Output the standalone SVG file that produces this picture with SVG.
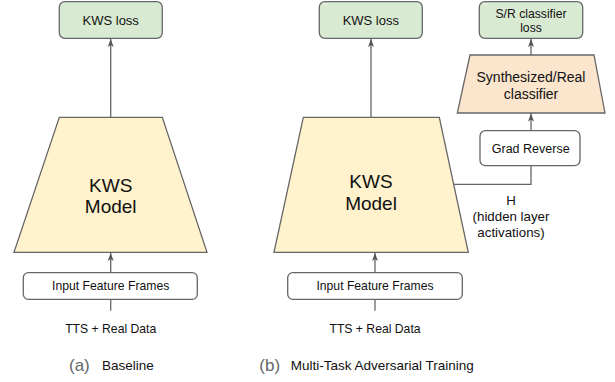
<svg xmlns="http://www.w3.org/2000/svg" width="615" height="382" viewBox="0 0 615 382">
<defs>
<style>
text{font-family:"Liberation Sans",Arial,sans-serif;fill:#111;text-anchor:middle}
.box{fill:#fff;stroke:#666;stroke-width:1.3}
.loss{fill:#d9ead3;stroke:#666;stroke-width:1.3}
.kws{fill:#fff2cc;stroke:#666;stroke-width:1.3}
.cls{fill:#fce5cd;stroke:#666;stroke-width:1.3}
.ln{fill:none;stroke:#666;stroke-width:1.3}
.s12{font-size:12.2px}
.big{font-size:19px}
.cap{font-size:17px;fill:#666;text-anchor:start}
.capt{font-size:13.5px;text-anchor:start}
</style>
<marker id="ah" markerUnits="userSpaceOnUse" markerWidth="10" markerHeight="10" refX="8" refY="4" orient="auto">
<path d="M0,1 L8,4 L0,7 L2,4 z" fill="#555"/>
</marker>
</defs>
<g id="connectors">
<line class="ln" x1="110.7" y1="117" x2="110.7" y2="39" marker-end="url(#ah)"/>
<line class="ln" x1="110.7" y1="272.7" x2="110.7" y2="253" marker-end="url(#ah)"/>
<line class="ln" x1="110.7" y1="299.3" x2="110.7" y2="310.7"/>
<line class="ln" x1="371" y1="117" x2="371" y2="39" marker-end="url(#ah)"/>
<line class="ln" x1="375" y1="272.7" x2="375" y2="253" marker-end="url(#ah)"/>
<line class="ln" x1="375" y1="299.3" x2="375" y2="310.7"/>
<polyline class="ln" points="453.7,184.3 531,184.3 531,165.7"/>
<line class="ln" x1="531" y1="130.7" x2="531" y2="113.5" marker-end="url(#ah)"/>
<line class="ln" x1="531" y1="55" x2="531" y2="39" marker-end="url(#ah)"/>
</g>
<g id="a-kws-loss">
<rect class="loss" x="59.3" y="1.7" width="103" height="36.6" rx="5.5"/>
<text class="s12" x="110.7" y="24.5" style="font-size:13px">KWS loss</text>
</g>
<g id="a-kws-model">
<polygon class="kws" points="59.3,117.3 162.3,117.3 207,252.3 14,252.3"/>
<text class="big" x="110.7" y="191.5">KWS</text>
<text class="big" x="110.7" y="213.3">Model</text>
</g>
<g id="a-input">
<rect class="box" x="23.3" y="272.7" width="174" height="26.6" rx="5"/>
<text class="s12" x="110.7" y="290.2">Input Feature Frames</text>
</g>
<g id="a-data">
<text class="s12" x="110.7" y="332.7">TTS + Real Data</text>
</g>
<g id="a-caption">
<text class="cap" x="69" y="371">(a)</text>
<text class="capt" x="102" y="370">Baseline</text>
</g>
<g id="b-kws-loss">
<rect class="loss" x="319.3" y="1.7" width="103" height="36.6" rx="5.5"/>
<text class="s12" x="370.8" y="24.5" style="font-size:13px">KWS loss</text>
</g>
<g id="b-kws-model">
<polygon class="kws" points="303.3,117.3 439.3,117.3 468.3,252.3 274,252.3"/>
<text class="big" x="371" y="187.5">KWS</text>
<text class="big" x="371" y="209.8">Model</text>
</g>
<g id="b-input">
<rect class="box" x="287.7" y="272.7" width="174.6" height="26.6" rx="5"/>
<text class="s12" x="375" y="290.2">Input Feature Frames</text>
</g>
<g id="b-data">
<text class="s12" x="375" y="332.7">TTS + Real Data</text>
</g>
<g id="b-caption">
<text class="cap" x="259.3" y="371">(b)</text>
<text class="capt" x="290.7" y="370">Multi-Task Adversarial Training</text>
</g>
<g id="grad-reverse">
<rect class="box" x="480" y="130.7" width="100" height="35" rx="5.5"/>
<text class="s12" x="530.7" y="153" style="font-size:12.5px">Grad Reverse</text>
</g>
<g id="h-label">
<text x="511" y="205.3" style="font-size:13.3px">H</text>
<text x="511" y="221" style="font-size:13.3px">(hidden layer</text>
<text x="511" y="236.5" style="font-size:13.3px">activations)</text>
</g>
<g id="sr-classifier">
<polygon class="cls" points="470,55 594,55 605,113 457.3,113"/>
<text x="531" y="82" style="font-size:14px">Synthesized/Real</text>
<text x="531" y="99" style="font-size:14px">classifier</text>
</g>
<g id="sr-loss">
<rect class="loss" x="479.3" y="1.7" width="103.4" height="36.6" rx="5.5"/>
<text class="s12" x="531" y="18">S/R classifier</text>
<text class="s12" x="531" y="32">loss</text>
</g>
</svg>
